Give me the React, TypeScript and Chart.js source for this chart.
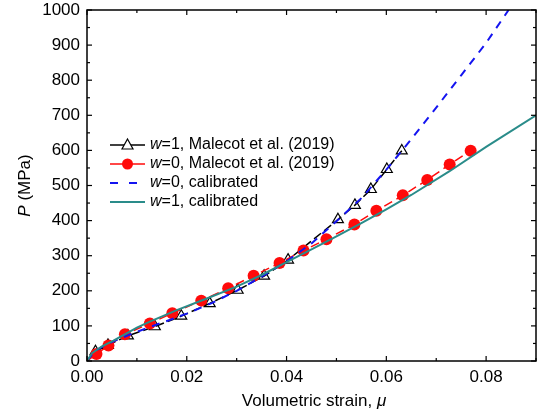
import React, { useEffect, useRef } from "react";
import { Chart, registerables } from "chart.js";

Chart.register(...registerables);

const FONT = "'Liberation Sans', Arial, Helvetica, sans-serif";

// Axis ticks
const xTicks = [0, 0.02, 0.04, 0.06, 0.08];
const xMinor = [0.01, 0.03, 0.05, 0.07, 0.09];
const yTicks = [0, 100, 200, 300, 400, 500, 600, 700, 800, 900, 1000];
const yMinor = [50, 150, 250, 350, 450, 550, 650, 750, 850, 950];

// w=1, Malecot et al. (2019) – triangles
const triX = [0, 0.0017, 0.0042, 0.0082, 0.0136, 0.0189, 0.0246, 0.0302, 0.0355, 0.0403, 0.0503, 0.0537, 0.0569, 0.0601, 0.0631];
const triY = [0, 27, 45, 72, 98, 128, 164, 202, 242, 288, 403, 444, 489, 546, 599];

// w=0, Malecot et al. (2019) – circles
const circX = [0, 0.0019, 0.0043, 0.0076, 0.0126, 0.0171, 0.0229, 0.0283, 0.0334, 0.0386, 0.0434, 0.048, 0.0536, 0.058, 0.0633, 0.0682, 0.0727, 0.0769];
const circY = [0, 20, 44, 76, 107, 136, 172, 207, 243, 279, 315, 347, 389, 428, 472, 516, 560, 599];

// w=0, calibrated – blue dashed
const blueX = [0, 0.001, 0.002, 0.004, 0.008, 0.012, 0.016, 0.02, 0.025, 0.03, 0.035, 0.04, 0.045, 0.05, 0.055, 0.06, 0.065, 0.07, 0.075, 0.08, 0.0845];
const blueY = [0, 18, 32, 48, 72, 94, 114, 135, 165, 200, 240, 284, 335, 398, 464, 545, 632, 722, 814, 906, 1000];

// w=1, calibrated – teal solid
const tealX = [0, 0.001, 0.003, 0.0053, 0.01, 0.0126, 0.018, 0.024, 0.03, 0.035, 0.04, 0.045, 0.05, 0.055, 0.06, 0.065, 0.0726, 0.08, 0.09];
const tealY = [0, 22, 42, 58, 95, 112, 145, 178, 212, 245, 282, 318, 355, 393, 432, 473, 540, 610, 700];

const BLUE = "#1414f0";
const TEAL = "#2a8c8a";
const RED = "#ff0a0a";

const pts = (xs: number[], ys: number[]) => xs.map((x, i) => ({ x, y: ys[i] }));

type Part = { t: string; i?: boolean };

function richWidth(ctx: CanvasRenderingContext2D, parts: Part[], size: number) {
  let w = 0;
  for (const p of parts) {
    ctx.font = `${p.i ? "italic " : ""}${size}px ${FONT}`;
    w += ctx.measureText(p.t).width;
  }
  return w;
}

function drawRich(ctx: CanvasRenderingContext2D, parts: Part[], x: number, y: number, size: number) {
  let cx = x;
  ctx.textAlign = "left";
  ctx.textBaseline = "middle";
  ctx.fillStyle = "#000";
  for (const p of parts) {
    ctx.font = `${p.i ? "italic " : ""}${size}px ${FONT}`;
    ctx.fillText(p.t, cx, y);
    cx += ctx.measureText(p.t).width;
  }
}

const legendItems: { parts: Part[]; kind: string }[] = [
  { parts: [{ t: "w", i: true }, { t: "=1, Malecot et al. (2019)" }], kind: "tri" },
  { parts: [{ t: "w", i: true }, { t: "=0, Malecot et al. (2019)" }], kind: "circ" },
  { parts: [{ t: "w", i: true }, { t: "=0, calibrated" }], kind: "blue" },
  { parts: [{ t: "w", i: true }, { t: "=1, calibrated" }], kind: "teal" },
];

const decorPlugin = {
  id: "decor",
  afterDraw(chart: any) {
    const ctx: CanvasRenderingContext2D = chart.ctx;
    const { left, right, top, bottom } = chart.chartArea;
    const xs = chart.scales.x;
    const ys = chart.scales.y;
    ctx.save();
    ctx.strokeStyle = "#000";
    ctx.lineWidth = 1.5;
    ctx.setLineDash([]);
    ctx.strokeRect(left, top, right - left, bottom - top);

    ctx.lineWidth = 1.2;
    const tick = (x1: number, y1: number, x2: number, y2: number) => {
      ctx.beginPath();
      ctx.moveTo(x1, y1);
      ctx.lineTo(x2, y2);
      ctx.stroke();
    };
    const MAJ = 5, MIN = 3;
    for (const v of xTicks) {
      const p = xs.getPixelForValue(v);
      tick(p, bottom, p, bottom - MAJ);
      tick(p, top, p, top + MAJ);
    }
    for (const v of xMinor) {
      const p = xs.getPixelForValue(v);
      tick(p, bottom, p, bottom - MIN);
      tick(p, top, p, top + MIN);
    }
    for (const v of yTicks) {
      const p = ys.getPixelForValue(v);
      tick(left, p, left + MAJ, p);
      tick(right, p, right - MAJ, p);
    }
    for (const v of yMinor) {
      const p = ys.getPixelForValue(v);
      tick(left, p, left + MIN, p);
      tick(right, p, right - MIN, p);
    }

    // axis titles
    const xt: Part[] = [{ t: "Volumetric strain, " }, { t: "μ", i: true }];
    const xw = richWidth(ctx, xt, 17);
    drawRich(ctx, xt, 314 - xw / 2, 401, 17);

    const yt: Part[] = [{ t: "P", i: true }, { t: " (MPa)" }];
    const yw = richWidth(ctx, yt, 17);
    ctx.save();
    ctx.translate(25, (top + bottom) / 2);
    ctx.rotate(-Math.PI / 2);
    drawRich(ctx, yt, -yw / 2, 0, 17);
    ctx.restore();

    // legend
    const rows = [145, 164, 183, 202];
    const sx1 = 110, sx2 = 145, mx = 127.5, tx = 150;
    legendItems.forEach((it, i) => {
      const y = rows[i];
      ctx.save();
      if (it.kind === "tri") {
        ctx.strokeStyle = "#000";
        ctx.lineWidth = 1.5;
        tick(sx1, y, sx2, y);
        ctx.fillStyle = "#fff";
        ctx.lineWidth = 1.2;
        ctx.beginPath();
        ctx.moveTo(mx, y - 6);
        ctx.lineTo(mx + 5.5, y + 4);
        ctx.lineTo(mx - 5.5, y + 4);
        ctx.closePath();
        ctx.fill();
        ctx.stroke();
      } else if (it.kind === "circ") {
        ctx.strokeStyle = RED;
        ctx.lineWidth = 1.5;
        tick(sx1, y, sx2, y);
        ctx.fillStyle = RED;
        ctx.beginPath();
        ctx.arc(mx, y, 5.5, 0, Math.PI * 2);
        ctx.fill();
      } else if (it.kind === "blue") {
        ctx.strokeStyle = BLUE;
        ctx.lineWidth = 2;
        tick(110, y, 118, y);
        tick(129, y, 137, y);
      } else {
        ctx.strokeStyle = TEAL;
        ctx.lineWidth = 2;
        tick(sx1, y, sx2, y);
      }
      ctx.restore();
      drawRich(ctx, it.parts, tx, y, 16);
    });
    ctx.restore();
  },
};

const zeroPad = (s: any) => {
  s.paddingTop = 0;
  s.paddingBottom = 0;
  s.paddingLeft = 0;
  s.paddingRight = 0;
};

export default function App() {
  const ref = useRef<HTMLCanvasElement>(null);
  useEffect(() => {
    document.body.style.margin = "0";
    const canvas = ref.current;
    if (!canvas) return;
    const chart = new Chart(canvas, {
      type: "line",
      data: {
        datasets: [
          {
            data: pts(tealX, tealY),
            borderColor: TEAL,
            borderWidth: 2,
            pointRadius: 0,
            tension: 0,
          },
          {
            data: pts(blueX, blueY),
            borderColor: BLUE,
            borderWidth: 2,
            borderDash: [8, 7],
            pointRadius: 0,
            tension: 0,
          },
          {
            data: pts(circX, circY),
            borderColor: RED,
            borderWidth: 1.5,
            borderDash: [9, 5],
            pointRadius: circX.map((_, i) => (i === 0 ? 0 : 6)),
            pointBackgroundColor: RED,
            pointBorderColor: RED,
            pointBorderWidth: 0,
            tension: 0,
          },
          {
            data: pts(triX, triY),
            borderColor: "#000",
            borderWidth: 1.5,
            borderDash: [9, 4],
            pointStyle: "triangle",
            pointRadius: triX.map((_, i) => (i === 0 ? 0 : 6.3)),
            pointBackgroundColor: "rgba(255,255,255,0)",
            pointBorderColor: "#000",
            pointBorderWidth: 1.2,
            tension: 0,
          },
        ] as any,
      },
      options: {
        animation: false,
        responsive: false,
        devicePixelRatio: 1,
        layout: { autoPadding: false, padding: { top: 10, right: 1, left: 0, bottom: 0 } },
        plugins: { legend: { display: false }, tooltip: { enabled: false } },
        scales: {
          x: {
            type: "linear",
            min: 0,
            max: 0.09,
            grid: { display: false, drawTicks: false },
            border: { display: false },
            ticks: {
              font: { family: FONT, size: 17 },
              color: "#000",
              padding: 6,
              maxRotation: 0,
              autoSkip: false,
              callback: (v: any) => Number(v).toFixed(2),
            },
            afterBuildTicks: (s: any) => {
              s.ticks = xTicks.map((v) => ({ value: v }));
            },
            afterFit: (s: any) => {
              s.height = 53;
              zeroPad(s);
            },
          },
          y: {
            type: "linear",
            min: 0,
            max: 1000,
            grid: { display: false, drawTicks: false },
            border: { display: false },
            ticks: {
              font: { family: FONT, size: 17 },
              color: "#000",
              padding: 7,
              autoSkip: false,
              callback: (v: any) => String(v),
            },
            afterBuildTicks: (s: any) => {
              s.ticks = yTicks.map((v) => ({ value: v }));
            },
            afterFit: (s: any) => {
              s.width = 87;
              zeroPad(s);
            },
          },
        },
      } as any,
      plugins: [decorPlugin],
    });
    return () => chart.destroy();
  }, []);
  return (
    <div style={{ width: 537, height: 414 }}>
      <canvas ref={ref} width={537} height={414} style={{ display: "block" }} />
    </div>
  );
}
